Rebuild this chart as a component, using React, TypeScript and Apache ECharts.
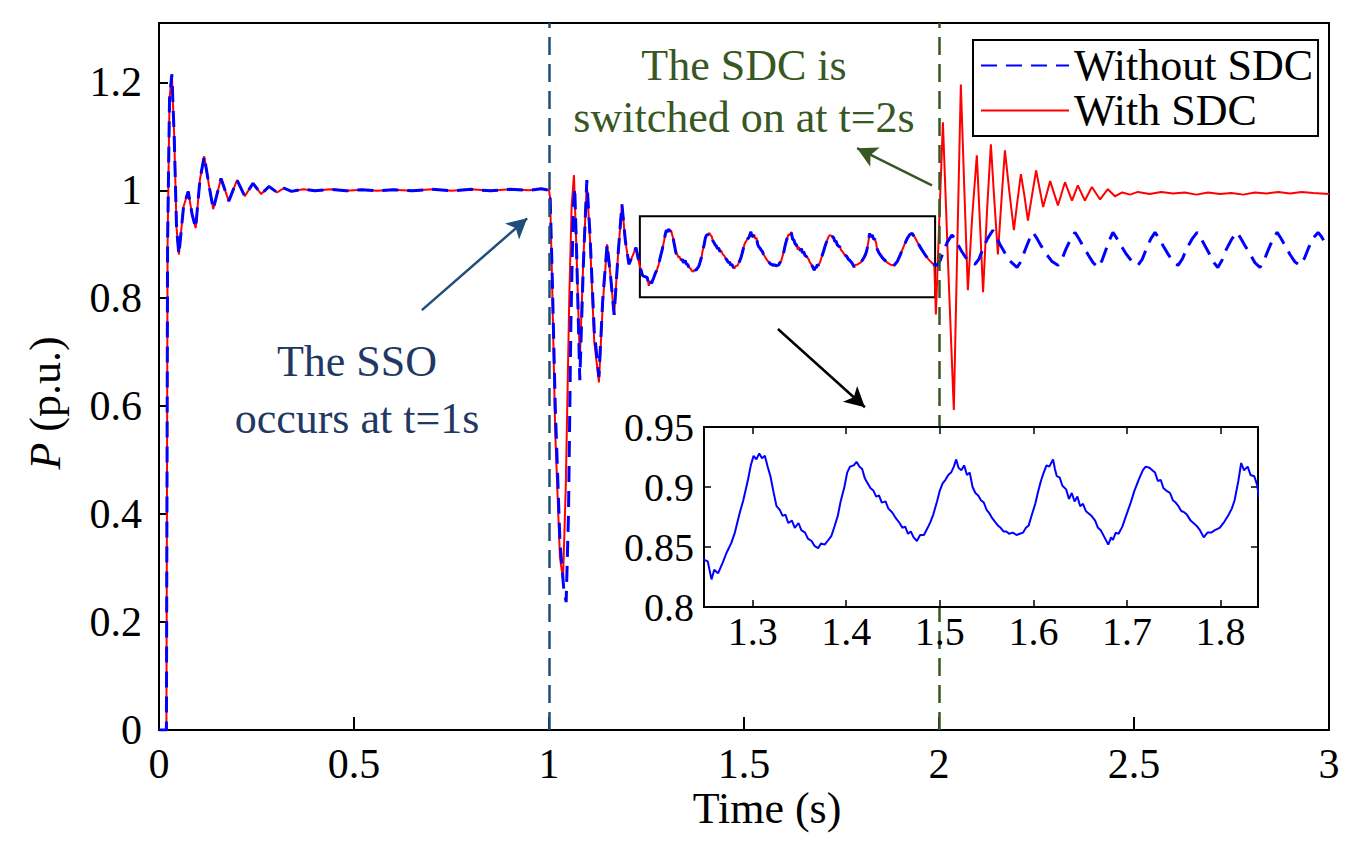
import * as echarts from 'echarts';
import React, { useEffect, useRef } from 'react';

const FONT = '"Liberation Serif", "Times New Roman", Times, serif';

// [t (s), P (p.u.)]
// start-up transient, identical for both cases
const startRun: [number, number][] = [
  [0, 0], [0.019, 0], [0.022, 0.9], [0.027, 1.17], [0.033, 1.215], [0.039, 1.1], [0.045, 0.93],
  [0.051, 0.881], [0.063, 0.97], [0.075, 0.998], [0.085, 0.955], [0.094, 0.93], [0.105, 1.02],
  [0.116, 1.063], [0.128, 1.01], [0.139, 0.965], [0.159, 1.022], [0.179, 0.98], [0.2, 1.019],
  [0.22, 0.989], [0.241, 1.013], [0.262, 0.993], [0.282, 1.007], [0.303, 0.996], [0.32, 1.004],
  [0.34, 0.998], [0.37, 1.002], [0.4, 0.999], [0.44, 1.002], [0.48, 0.999], [0.52, 1.001],
  [0.56, 0.999], [0.6, 1.001], [0.65, 0.999], [0.7, 1.002], [0.75, 0.999], [0.8, 1.002],
  [0.85, 0.999], [0.9, 1.002], [0.95, 1.0], [0.98, 1.003], [1.0, 1.0],
];

// first swings after the SSO starts (the two runs differ a little)
const ssoBlue: [number, number][] = [
  [1.003, 0.985], [1.008, 0.85], [1.016, 0.6], [1.028, 0.35], [1.038, 0.26], [1.044, 0.237],
  [1.05, 0.4], [1.056, 0.75], [1.062, 0.96], [1.066, 1.005], [1.071, 0.88], [1.079, 0.648],
  [1.088, 0.86], [1.097, 1.019], [1.105, 0.92], [1.116, 0.74], [1.128, 0.654], [1.138, 0.8],
  [1.149, 0.9],
];
const ssoRed: [number, number][] = [
  [1.003, 0.985], [1.008, 0.83], [1.016, 0.55], [1.028, 0.32], [1.036, 0.28], [1.043, 0.45],
  [1.052, 0.8], [1.058, 0.97], [1.064, 1.028], [1.07, 0.9], [1.079, 0.685], [1.088, 0.87],
  [1.097, 1.012], [1.105, 0.91], [1.116, 0.72], [1.128, 0.644], [1.138, 0.79], [1.149, 0.9],
];

// sustained SSO, common to both runs until the SDC is switched on
const ssoRun: [number, number][] = [
  [1.158, 0.84], [1.167, 0.769], [1.177, 0.88], [1.187, 0.974], [1.196, 0.905], [1.205, 0.863],
  [1.214, 0.878], [1.223, 0.894], [1.232, 0.862], [1.24, 0.842], [1.249, 0.839], [1.252, 0.838],
  [1.256, 0.823], [1.259, 0.831], [1.263, 0.828], [1.268, 0.837], [1.272, 0.845], [1.277, 0.853],
  [1.281, 0.862], [1.286, 0.878], [1.29, 0.889], [1.295, 0.906], [1.298, 0.918], [1.301, 0.926],
  [1.304, 0.923], [1.307, 0.928], [1.31, 0.924], [1.313, 0.926], [1.316, 0.917], [1.319, 0.909],
  [1.322, 0.897], [1.3255, 0.884], [1.329, 0.881], [1.332, 0.876], [1.335, 0.877], [1.338, 0.87],
  [1.342, 0.872], [1.345, 0.866], [1.349, 0.87], [1.352, 0.864], [1.356, 0.862], [1.359, 0.857],
  [1.363, 0.855], [1.366, 0.851], [1.37, 0.849], [1.373, 0.853], [1.377, 0.852], [1.38, 0.855],
  [1.384, 0.859], [1.387, 0.866], [1.391, 0.876], [1.394, 0.888], [1.398, 0.9], [1.401, 0.912],
  [1.404, 0.917], [1.408, 0.918], [1.411, 0.921], [1.414, 0.917], [1.417, 0.915], [1.42, 0.907],
  [1.423, 0.903], [1.426, 0.899], [1.429, 0.897], [1.432, 0.892], [1.435, 0.893], [1.438, 0.887],
  [1.442, 0.888], [1.445, 0.882], [1.449, 0.879], [1.453, 0.874], [1.457, 0.87], [1.46, 0.866],
  [1.463, 0.867], [1.466, 0.861], [1.469, 0.863], [1.472, 0.858], [1.4755, 0.855], [1.479, 0.86],
  [1.483, 0.86], [1.487, 0.866], [1.49, 0.871], [1.493, 0.877], [1.497, 0.888], [1.5, 0.897],
  [1.503, 0.903], [1.506, 0.906], [1.509, 0.91], [1.512, 0.912], [1.515, 0.917], [1.5175, 0.923],
  [1.52, 0.916], [1.523, 0.914], [1.526, 0.918], [1.529, 0.91], [1.532, 0.912], [1.535, 0.9],
  [1.538, 0.895], [1.541, 0.893], [1.544, 0.889], [1.547, 0.887], [1.55, 0.881], [1.553, 0.878],
  [1.556, 0.874], [1.559, 0.871], [1.562, 0.868], [1.565, 0.866], [1.568, 0.863], [1.571, 0.863],
  [1.574, 0.861], [1.578, 0.862], [1.582, 0.86], [1.5855, 0.861], [1.589, 0.862], [1.592, 0.866],
  [1.595, 0.868], [1.598, 0.876], [1.602, 0.886], [1.605, 0.896], [1.608, 0.905], [1.611, 0.912],
  [1.614, 0.918], [1.617, 0.917], [1.621, 0.923], [1.623, 0.915], [1.625, 0.909], [1.628, 0.908],
  [1.631, 0.901], [1.635, 0.898], [1.638, 0.89], [1.641, 0.895], [1.644, 0.888], [1.647, 0.892],
  [1.65, 0.884], [1.653, 0.886], [1.656, 0.88], [1.659, 0.878], [1.662, 0.876], [1.666, 0.872],
  [1.669, 0.866], [1.672, 0.864], [1.676, 0.858], [1.68, 0.852], [1.683, 0.858], [1.685, 0.856],
  [1.688, 0.862], [1.691, 0.861], [1.695, 0.867], [1.699, 0.876], [1.704, 0.887], [1.708, 0.897],
  [1.713, 0.907], [1.717, 0.914], [1.72, 0.917], [1.724, 0.916], [1.727, 0.914], [1.73, 0.912],
  [1.733, 0.905], [1.736, 0.906], [1.739, 0.899], [1.742, 0.897], [1.746, 0.895], [1.749, 0.889],
  [1.752, 0.887], [1.755, 0.884], [1.758, 0.88], [1.761, 0.879], [1.764, 0.877], [1.768, 0.872],
  [1.771, 0.87], [1.774, 0.868], [1.778, 0.864], [1.782, 0.858], [1.786, 0.862], [1.79, 0.862],
  [1.794, 0.864], [1.799, 0.866], [1.804, 0.871], [1.808, 0.876], [1.812, 0.882], [1.815, 0.889],
  [1.819, 0.905], [1.822, 0.92], [1.825, 0.914], [1.829, 0.917], [1.832, 0.91], [1.836, 0.909],
  [1.839, 0.902], [1.841, 0.892], [1.846, 0.884], [1.856, 0.874], [1.866, 0.867], [1.876, 0.862],
  [1.885, 0.861], [1.893, 0.868], [1.901, 0.881], [1.91, 0.897], [1.918, 0.91], [1.925, 0.918],
  [1.931, 0.92], [1.938, 0.913], [1.946, 0.902], [1.955, 0.891], [1.964, 0.881], [1.973, 0.872],
  [1.981, 0.866], [1.988, 0.862],
];

// without SDC: the SSO keeps going
const noSdcRun: [number, number][] = [
  [1.995, 0.861], [2.003, 0.87], [2.012, 0.888], [2.022, 0.905], [2.033, 0.917], [2.04, 0.912],
  [2.048, 0.9], [2.058, 0.887], [2.068, 0.876], [2.08, 0.867], [2.092, 0.863], [2.102, 0.872],
  [2.112, 0.89], [2.124, 0.91], [2.138, 0.926], [2.146, 0.915], [2.156, 0.9], [2.168, 0.885],
  [2.182, 0.869], [2.2, 0.857], [2.21, 0.868], [2.22, 0.888], [2.231, 0.908], [2.241, 0.922],
  [2.25, 0.912], [2.262, 0.897], [2.275, 0.882], [2.29, 0.868], [2.305, 0.861], [2.315, 0.872],
  [2.326, 0.892], [2.338, 0.91], [2.349, 0.922], [2.358, 0.911], [2.37, 0.896], [2.382, 0.881],
  [2.395, 0.866], [2.408, 0.857], [2.418, 0.87], [2.428, 0.89], [2.437, 0.908], [2.446, 0.922],
  [2.455, 0.912], [2.467, 0.897], [2.48, 0.882], [2.495, 0.868], [2.51, 0.861], [2.521, 0.872],
  [2.532, 0.892], [2.543, 0.91], [2.554, 0.922], [2.563, 0.912], [2.575, 0.897], [2.588, 0.881],
  [2.6, 0.868], [2.613, 0.861], [2.624, 0.873], [2.636, 0.893], [2.65, 0.911], [2.662, 0.922],
  [2.671, 0.912], [2.683, 0.896], [2.695, 0.88], [2.705, 0.866], [2.715, 0.857], [2.726, 0.871],
  [2.737, 0.891], [2.751, 0.91], [2.764, 0.922], [2.773, 0.912], [2.785, 0.897], [2.798, 0.881],
  [2.81, 0.866], [2.823, 0.857], [2.834, 0.871], [2.845, 0.891], [2.856, 0.909], [2.867, 0.922],
  [2.876, 0.912], [2.888, 0.897], [2.9, 0.881], [2.913, 0.867], [2.926, 0.861], [2.937, 0.874],
  [2.948, 0.894], [2.96, 0.912], [2.972, 0.922], [2.98, 0.915], [2.988, 0.905], [2.995, 0.898],
];

// with SDC: damped swing back to ~1 p.u.
const sdcRun: [number, number][] = [
  [1.992, 0.77], [2.001, 0.95], [2.01, 1.126], [2.024, 0.85], [2.038, 0.593], [2.047, 0.9],
  [2.056, 1.196], [2.065, 1.0], [2.074, 0.815], [2.085, 0.95], [2.097, 1.065], [2.105, 0.94],
  [2.113, 0.811], [2.123, 0.96], [2.133, 1.085], [2.142, 0.98], [2.151, 0.881], [2.16, 0.98],
  [2.169, 1.074], [2.18, 1.0], [2.192, 0.926], [2.201, 0.98], [2.21, 1.03], [2.219, 0.99],
  [2.228, 0.944], [2.249, 1.037], [2.267, 0.969], [2.285, 1.017], [2.305, 0.972], [2.323, 1.015],
  [2.341, 0.981], [2.356, 1.009], [2.374, 0.981], [2.392, 1.006], [2.413, 0.983], [2.433, 1.002],
  [2.451, 0.989], [2.47, 0.996], [2.49, 0.992], [2.51, 0.997], [2.54, 0.993], [2.57, 0.997],
  [2.6, 0.994], [2.63, 0.996], [2.66, 0.992], [2.69, 0.996], [2.72, 0.993], [2.75, 0.995],
  [2.78, 0.992], [2.81, 0.996], [2.84, 0.994], [2.87, 0.997], [2.9, 0.994], [2.93, 0.997],
  [2.96, 0.995], [3.0, 0.993],
];

const withoutSdc = [...startRun, ...ssoBlue, ...ssoRun, ...noSdcRun];
const withSdc = [...startRun, ...ssoRed, ...ssoRun, ...sdcRun];

const xTicks = [0, 0.5, 1, 1.5, 2, 2.5, 3];
const yTicks = [0, 0.2, 0.4, 0.6, 0.8, 1, 1.2];
const insetXTicks = [1.3, 1.4, 1.5, 1.6, 1.7, 1.8];
const insetYTicks = [0.8, 0.85, 0.9, 0.95];

const ssoTime = 1;
const sdcTime = 2;
// zoomed window marked on the main plot: [t, P] corners
const zoomBox: [number, number][] = [[1.233, 0.952], [1.99, 0.802]];
// annotation arrows: [tail, head] in data units
const ssoArrow: [number, number][] = [[0.674, 0.778], [0.944, 0.948]];
const sdcArrow: [number, number][] = [[1.982, 1.009], [1.79, 1.078]];
const zoomArrow: [number, number][] = [[1.587, 0.743], [1.81, 0.598]];

const arrowLine = (pts: [number, number][], color: string) => [
  { coord: pts[0], symbol: 'none', lineStyle: { color, width: 2.5, type: 'solid' } },
  { coord: pts[1], symbol: 'arrow', symbolSize: [16, 20], itemStyle: { color } },
];

const App = () => {
  const chartRef = useRef<HTMLDivElement>(null);

  useEffect(() => {
    if (!chartRef.current) return;
    const chart = echarts.init(chartRef.current, null, { renderer: 'svg' });

    const tickLabel = { color: '#000', fontFamily: FONT, fontSize: 42 };
    const insetLabel = { color: '#000', fontFamily: FONT, fontSize: 40 };

    chart.setOption({
      animation: false,
      backgroundColor: '#fff',
      grid: [
        {
          left: 159,
          right: 28,
          top: 23,
          bottom: 123,
          show: true,
          borderColor: '#000',
          borderWidth: 2,
          backgroundColor: 'transparent',
        },
        {
          left: 704,
          right: 99,
          top: 427,
          bottom: 246,
          show: true,
          borderColor: '#000',
          borderWidth: 2,
          backgroundColor: '#fff',
          z: 10,
        },
      ],
      legend: {
        data: ['Without SDC', 'With SDC'],
        orient: 'vertical',
        left: 973,
        top: 40,
        itemWidth: 88,
        itemHeight: 20,
        itemGap: 0,
        padding: [3, 5, 3, 7],
        borderColor: '#000',
        borderWidth: 2,
        backgroundColor: '#fff',
        selectedMode: false,
        itemStyle: { opacity: 0, borderWidth: 0 },
        textStyle: { color: '#000', fontFamily: FONT, fontSize: 44, lineHeight: 45 },
      },
      xAxis: [
        {
          type: 'value',
          gridIndex: 0,
          min: 0,
          max: 3,
          axisLine: { lineStyle: { color: '#000', width: 2 } },
          axisTick: { inside: true, length: 13, lineStyle: { color: '#000', width: 2 }, customValues: xTicks },
          axisLabel: { ...tickLabel, margin: 13, customValues: xTicks },
          splitLine: { show: false },
        },
        {
          type: 'value',
          gridIndex: 1,
          min: 1.248,
          max: 1.84,
          z: 11,
          axisLine: { lineStyle: { color: '#000', width: 2 } },
          axisTick: { inside: true, length: 7, lineStyle: { color: '#000', width: 1.5 }, customValues: insetXTicks },
          axisLabel: { ...insetLabel, margin: 4, customValues: insetXTicks },
          splitLine: { show: false },
        },
        {
          type: 'value',
          gridIndex: 1,
          position: 'top',
          min: 1.248,
          max: 1.84,
          z: 11,
          axisLine: { show: false },
          axisTick: { inside: true, length: 7, lineStyle: { color: '#000', width: 1.5 }, customValues: insetXTicks },
          axisLabel: { show: false },
          splitLine: { show: false },
        },
      ],
      yAxis: [
        {
          type: 'value',
          gridIndex: 0,
          min: 0,
          max: 1.31,
          axisLine: { show: true, lineStyle: { color: '#000', width: 2 } },
          axisTick: { show: true, inside: true, length: 9, lineStyle: { color: '#000', width: 2 }, customValues: yTicks },
          axisLabel: { ...tickLabel, margin: 17, customValues: yTicks },
          splitLine: { show: false },
        },
        {
          type: 'value',
          gridIndex: 1,
          min: 0.8,
          max: 0.95,
          z: 11,
          axisLine: { show: true, lineStyle: { color: '#000', width: 2 } },
          axisTick: { show: true, inside: true, length: 7, lineStyle: { color: '#000', width: 1.5 }, customValues: insetYTicks },
          axisLabel: { ...insetLabel, margin: 10, customValues: insetYTicks },
          splitLine: { show: false },
        },
        {
          type: 'value',
          gridIndex: 1,
          position: 'right',
          min: 0.8,
          max: 0.95,
          z: 11,
          axisLine: { show: false },
          axisTick: { show: true, inside: true, length: 7, lineStyle: { color: '#000', width: 1.5 }, customValues: insetYTicks },
          axisLabel: { show: false },
          splitLine: { show: false },
        },
      ],
      series: [
        {
          name: 'With SDC',
          type: 'line',
          xAxisIndex: 0,
          yAxisIndex: 0,
          data: withSdc,
          symbol: 'none',
          z: 2,
          lineStyle: { color: '#ff0000', width: 2 },
          itemStyle: { color: '#ff0000' },
          markLine: {
            silent: true,
            symbol: ['none', 'none'],
            label: { show: false },
            data: [
              { xAxis: ssoTime, lineStyle: { color: '#1f4e79', type: [18, 9], width: 2.5 } },
              { xAxis: sdcTime, lineStyle: { color: '#385723', type: [18, 9], width: 2.5 } },
              arrowLine(ssoArrow, '#1f4e79'),
              arrowLine(sdcArrow, '#385723'),
              arrowLine(zoomArrow, '#000000'),
            ],
          },
          markArea: {
            silent: true,
            label: { show: false },
            itemStyle: { color: 'rgba(0,0,0,0)', borderColor: '#000', borderWidth: 2 },
            data: [[{ coord: zoomBox[0] }, { coord: zoomBox[1] }]],
          },
        },
        {
          name: 'Without SDC',
          type: 'line',
          xAxisIndex: 0,
          yAxisIndex: 0,
          data: withoutSdc,
          symbol: 'none',
          z: 3,
          lineStyle: { color: '#0000ff', width: 3, type: [16, 9] },
          itemStyle: { color: '#0000ff' },
        },
        {
          name: 'zoom',
          type: 'line',
          xAxisIndex: 1,
          yAxisIndex: 1,
          data: withoutSdc,
          symbol: 'none',
          clip: true,
          z: 12,
          lineStyle: { color: '#0000ff', width: 2 },
        },
      ],
      graphic: [
        {
          type: 'text',
          x: 357,
          y: 333,
          z: 20,
          style: {
            text: 'The SSO\noccurs at t=1s',
            fill: '#1f3864',
            fontFamily: FONT,
            fontSize: 44,
            lineHeight: 57,
            align: 'center',
            verticalAlign: 'top',
          },
        },
        {
          type: 'text',
          x: 744,
          y: 39,
          z: 20,
          style: {
            text: 'The SDC is\nswitched on at t=2s',
            fill: '#385723',
            fontFamily: FONT,
            fontSize: 44,
            lineHeight: 52,
            align: 'center',
            verticalAlign: 'top',
          },
        },
        {
          type: 'text',
          x: 767,
          y: 808,
          z: 20,
          style: {
            text: 'Time (s)',
            fill: '#000',
            fontFamily: FONT,
            fontSize: 44,
            align: 'center',
            verticalAlign: 'middle',
          },
        },
        {
          type: 'text',
          x: 45,
          y: 403,
          rotation: Math.PI / 2,
          z: 20,
          style: {
            text: '{i|P} (p.u.)',
            fill: '#000',
            fontFamily: FONT,
            fontSize: 44,
            align: 'center',
            verticalAlign: 'middle',
            rich: { i: { fontStyle: 'italic', fontFamily: FONT, fontSize: 44, fill: '#000' } },
          },
        },
      ],
    });

    return () => chart.dispose();
  }, []);

  return (
    <div
      ref={chartRef}
      style={{ position: 'absolute', left: 0, top: 0, width: '1357px', height: '853px' }}
    />
  );
};

export default App;
